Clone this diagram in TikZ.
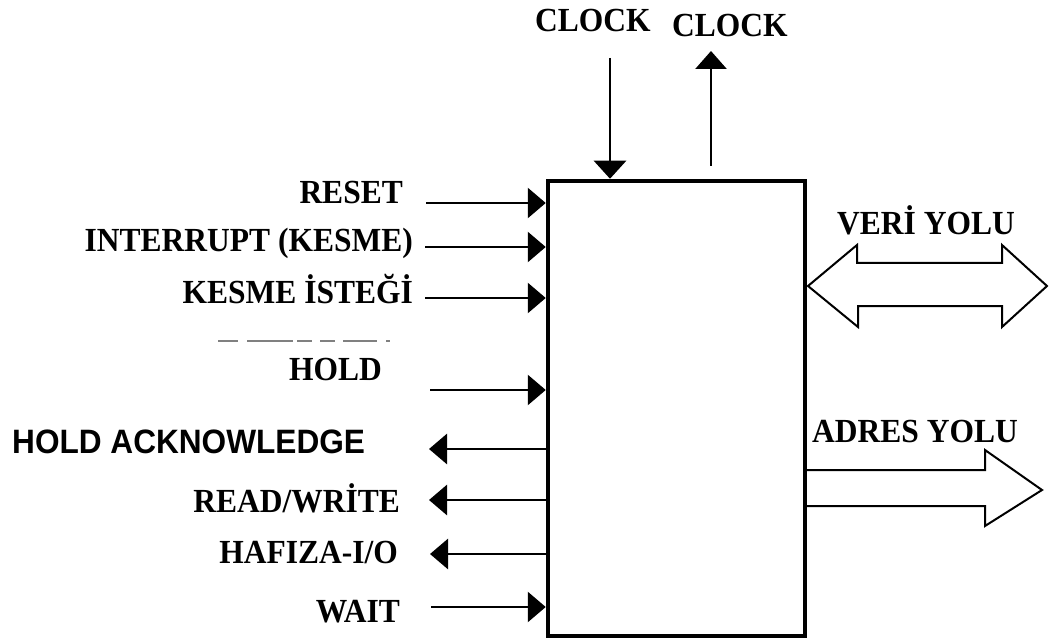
\documentclass[tikz,border=0pt]{standalone}
\usepackage{fontspec}
\setmainfont{Liberation Serif}
\newfontfamily\arialfont{Liberation Sans}
\usetikzlibrary{arrows.meta}
\newcommand\stretchtxt[1]{\scalebox{1}[1.07]{#1}}
\tikzset{
  lbl/.style={inner sep=0pt, font=\fontsize{31.5}{36}\selectfont\bfseries},
  albl/.style={inner sep=0pt, font=\fontsize{31.6}{36}\selectfont\arialfont\bfseries},
  sig/.style={line width=2.8pt, -{Triangle[length=18pt,width=30pt]}},
  busarrow/.style={line width=2pt, fill=white, line join=miter},
  cpubox/.style={draw, line width=4.5pt, minimum width=257pt, minimum height=455pt, inner sep=0pt},
  ghost/.style={draw=gray, line width=1.3pt}
}
\begin{document}
\begin{tikzpicture}[x=1pt,y=1pt]
\useasboundingbox (0,0) rectangle (1049,-644);
% data bus (double outlined arrow)
\draw[busarrow] (808,-286) -- (857,-245) -- (857,-263) -- (1002,-263) -- (1002,-245) -- (1047,-286)
  -- (1002,-327) -- (1002,-306) -- (858,-306) -- (858,-327) -- cycle;
% address bus
\draw[busarrow] (803,-470) -- (985,-470) -- (985,-450) -- (1042,-490) -- (985,-526) -- (985,-506) -- (803,-506);
% main box
\node[cpubox] (cpu) at (676.5,-408.5) {};
% labels
\node[lbl, anchor=base west] (clk1) at (535,-32) {\stretchtxt{CLOCK}};
\node[lbl, anchor=base west] (clk2) at (672,-37) {\stretchtxt{CLOCK}};
\node[lbl, anchor=base east] (reset) at (403,-204) {\stretchtxt{RESET}};
\node[lbl, anchor=base east] (intr) at (413,-252) {\stretchtxt{INTERRUPT (KESME)}};
\node[lbl, anchor=base east] (kes) at (413,-303) {\stretchtxt{KESME İSTEĞİ}};
\node[lbl, anchor=base east] (hold) at (382,-380) {\stretchtxt{HOLD}};
\node[albl, anchor=base west] (hlda) at (12,-453) {\stretchtxt{HOLD ACKNOWLEDGE}};
\node[lbl, anchor=base east] (rw) at (400,-512) {\stretchtxt{READ/WRİTE}};
\node[lbl, anchor=base east] (mio) at (398,-563) {\stretchtxt{HAFIZA-I/O}};
\node[lbl, anchor=base east] (wait) at (400,-622) {\stretchtxt{WAIT}};
\node[lbl, anchor=base west] (veri) at (837,-235) {\stretchtxt{VERİ YOLU}};
\node[lbl, anchor=base west] (adr) at (812,-442) {\stretchtxt{ADRES YOLU}};
% faint overline fragments
\draw[ghost] (218,-341) -- (238,-341);
\draw[ghost] (247,-341) -- (293,-341);
\draw[ghost] (297,-341) -- (312,-341);
\draw[ghost] (320,-341) -- (335,-341);
\draw[ghost] (343,-341) -- (377,-341);
\draw[ghost] (386,-341) -- (390,-341);
% signal start points
\coordinate (cin) at (610,-58);
\coordinate (cout) at (711,-166);
\coordinate (cout2) at (711,-51);
\coordinate (s1) at (426,-203);
\coordinate (s2) at (425,-247);
\coordinate (s3) at (425,-298);
\coordinate (s4) at (430,-390);
\coordinate (s5) at (429,-449);
\coordinate (s6) at (429,-500);
\coordinate (s7) at (430,-554);
\coordinate (s8) at (431,-607);
% inputs
\draw[sig,-{Triangle[length=18pt,width=32pt]}] (cin) -- (cin |- cpu.north);
\draw[sig,-{Triangle[length=18pt,width=31pt]}] (cout) -- (cout2);
\draw[sig] (s1) -- (s1 -| cpu.west);
\draw[sig] (s2) -- (s2 -| cpu.west);
\draw[sig] (s3) -- (s3 -| cpu.west);
\draw[sig] (s4) -- (s4 -| cpu.west);
\draw[sig] (s8) -- (s8 -| cpu.west);
% outputs
\draw[sig] (s5 -| cpu.west) -- (s5);
\draw[sig] (s6 -| cpu.west) -- (s6);
\draw[sig] (s7 -| cpu.west) -- (s7);
\end{tikzpicture}
\end{document}
